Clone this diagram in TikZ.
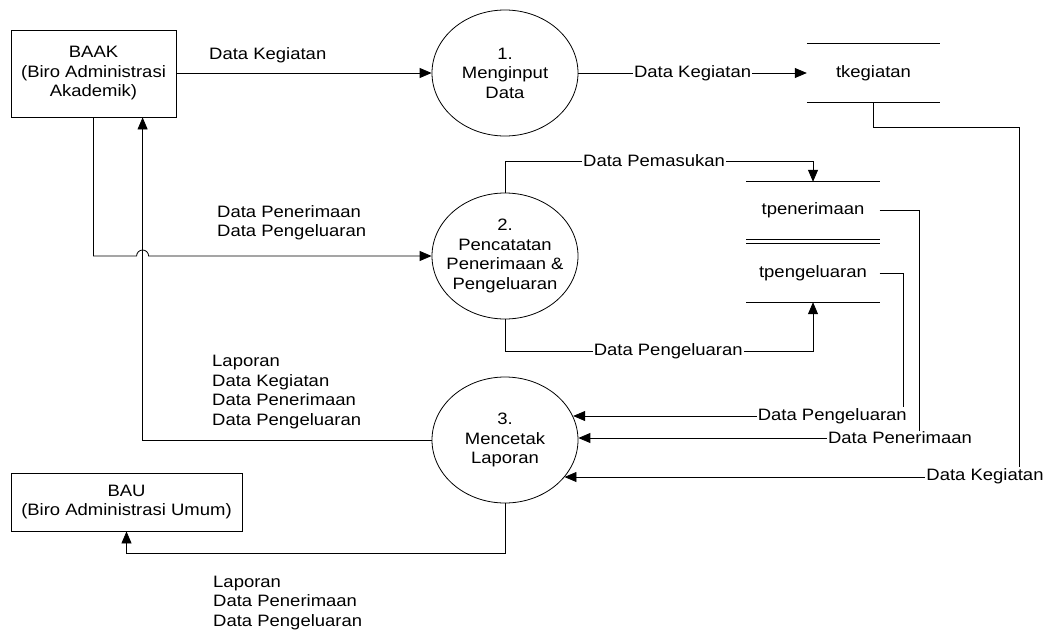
\documentclass[tikz,border=0pt]{standalone}
\usepackage{fontspec}
\setmainfont[FakeStretch=1.12]{Liberation Sans}
\usetikzlibrary{arrows.meta,shapes.geometric,calc}

\begin{document}
\begin{tikzpicture}[x=1pt,y=-1pt,
  every node/.style={font=\fontsize{16.5}{19.5}\selectfont, inner sep=0pt},
  flow/.style={draw, line width=0.8pt, -{Triangle[length=12pt,width=10pt]}},
  entity/.style={draw, line width=0.8pt, rectangle, align=center},
  proc/.style={draw, line width=0.8pt, ellipse, minimum width=146pt, minimum height=126pt},
  store/.style={rectangle, minimum width=133pt},
  storeline/.style={line width=0.8pt},
  lbl/.style={fill=white, inner sep=1pt},
  multi/.style={anchor=west, align=left}]

\useasboundingbox (0,0) rectangle (1051,632);

% external entities
\node[entity, minimum width=165pt, minimum height=87pt] (baak) at (93.5,73.5)
  {BAAK\\(Biro Administrasi\\Akademik)};
\node[entity, minimum width=231pt, minimum height=58pt] (bau) at (126.5,502)
  {BAU\\(Biro Administrasi Umum)};

% processes
\node[proc] (p1) at (505,73) {};
\node[align=center] at (p1) {1.\\Menginput\\Data};
\node[proc] (p2) at (505,256) {};
\node[align=center] at (p2) {2.\\Pencatatan\\Penerimaan \&\\Pengeluaran};
\node[proc] (p3) at (505,440) {};
\node[align=center] at (p3) {3.\\Mencetak\\Laporan};

% data stores
\node[store, minimum height=58pt] (s1) at (873.5,73) {tkegiatan};
\node[store, minimum height=57pt] (s2) at (813,210.5) {tpenerimaan};
\node[store, minimum height=58pt] (s3) at (813,273) {tpengeluaran};
\foreach \s in {s1,s2,s3}{
  \draw[storeline] (\s.north west) -- (\s.north east);
  \draw[storeline] (\s.south west) -- (\s.south east);
}

% BAAK -> process 1
\draw[flow] (baak.east |- p1.west) -- (p1.west);
\node[anchor=west] at (209,55) {Data Kegiatan};

% process 1 -> tkegiatan
\draw[flow] (p1.east) -- (s1.west) node[midway, lbl] {Data Kegiatan};

% BAAK -> process 2, hopping over the return line
\coordinate (bk) at ($(baak.south west)+(132,0)$);
\draw[flow] (baak.south) -- (baak.south |- p2.west) -- ($(bk |- p2.west)+(-6,0)$)
  arc[start angle=180, end angle=360, radius=6] -- (p2.west);
\node[multi] at (217,222.5) {Data Penerimaan\\Data Pengeluaran};

% process 2 -> stores
\draw[flow] (p2.north) -- (505,161) -- (813,161)
  node[pos=0.484, lbl] {Data Pemasukan} -- (s2.north);
\draw[flow] (p2.south) -- (505,351) -- (813,351)
  node[pos=0.53, lbl] {Data Pengeluaran} -- (s3.south);

% process 3 -> BAAK
\draw[flow] (p3.west) -| (bk);
\node[multi] at (212,392) {Laporan\\Data Kegiatan\\Data Penerimaan\\Data Pengeluaran};

% process 3 -> BAU
\draw[flow] (p3.south) -- ++(0,50) -| (bau.south);
\node[multi] at (213,603) {Laporan\\Data Penerimaan\\Data Pengeluaran};

% stores -> process 3
\coordinate (k1) at (903,416);
\draw[flow] (s3.east) -| (k1) -- (p3.19.6 |- k1);
\node[lbl, anchor=east] at (908,416) {Data Pengeluaran};

\coordinate (k2) at (919,438);
\draw[flow] (s2.east) -| (k2) -- (p3.1.6 |- k2);
\node[lbl] at (900,438) {Data Penerimaan};

\coordinate (k3) at (1019,477);
\draw[flow] (s1.south) -- ++(0,25) -| (k3) -- (p3.-32.1 |- k3);
\node[lbl] at (985,476) {Data Kegiatan};

\end{tikzpicture}
\end{document}
